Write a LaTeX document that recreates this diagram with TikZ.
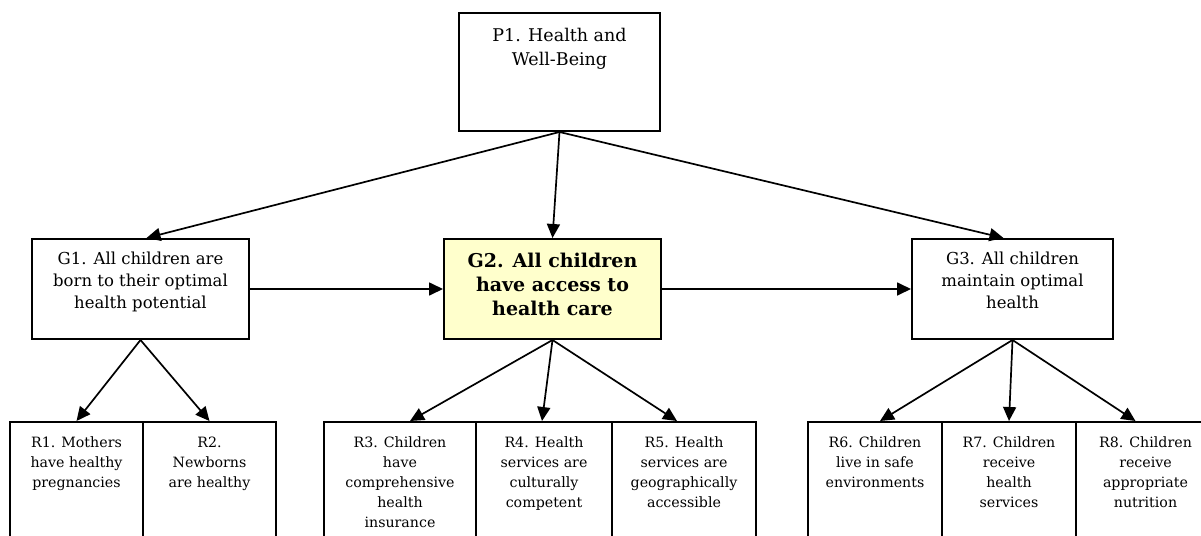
\documentclass[tikz,border=0pt]{standalone}
\usepackage{fontspec}
\setmainfont{DejaVu Serif}
\usetikzlibrary{arrows.meta}
\definecolor{goalfill}{HTML}{FFFFCC}
\tikzset{
  box/.style={draw=black, line width=2pt, inner sep=0pt, fill=white},
  txt/.style={anchor=north, align=center, inner sep=0pt},
  ptxt/.style={txt, font=\fontsize{17.5}{24}\selectfont, yshift=-16pt},
  gtxt/.style={txt, font=\fontsize{16.5}{22}\selectfont, yshift=-14pt},
  btxt/.style={txt, font=\bfseries\fontsize{19}{24}\selectfont, yshift=-15pt},
  rtxt/.style={txt, font=\fontsize{14.2}{20}\selectfont, yshift=-16pt},
  link/.style={line width=1.7pt, -{Triangle[length=14pt,width=13pt]}}
}
\begin{document}
\begin{tikzpicture}[x=1pt,y=-1pt]
\path[use as bounding box, clip] (0,0) rectangle (1201,535);

% top level
\node[box, minimum width=201pt, minimum height=118pt,
      label={[ptxt]north:{P1. Health and\\Well-Being}}] (P1) at (559.5,72) {};

% goals
\node[box, minimum width=217pt, minimum height=100pt,
      label={[gtxt]north:{G1. All children are\\born to their optimal\\health potential}}] (G1) at (140.5,289) {};
\node[box, fill=goalfill, minimum width=217pt, minimum height=100pt,
      label={[btxt]north:{G2. All children\\have access to\\health care}}] (G2) at (552.5,289) {};
\node[box, minimum width=201pt, minimum height=100pt,
      label={[gtxt]north:{G3. All children\\maintain optimal\\health}}] (G3) at (1012.5,289) {};

% results
\node[box, minimum width=133pt, minimum height=140pt,
      label={[rtxt]north:{R1. Mothers\\have healthy\\pregnancies}}] (R1) at (76.5,492) {};
\node[box, minimum width=133pt, minimum height=140pt,
      label={[rtxt]north:{R2.\\Newborns\\are healthy}}] (R2) at (209.5,492) {};
\node[box, minimum width=152pt, minimum height=140pt,
      label={[rtxt]north:{R3. Children\\have\\comprehensive\\health\\insurance}}] (R3) at (400,492) {};
\node[box, minimum width=136pt, minimum height=140pt,
      label={[rtxt]north:{R4. Health\\services are\\culturally\\competent}}] (R4) at (544,492) {};
\node[box, minimum width=144pt, minimum height=140pt,
      label={[rtxt]north:{R5. Health\\services are\\geographically\\accessible}}] (R5) at (684,492) {};
\node[box, minimum width=134pt, minimum height=140pt,
      label={[rtxt]north:{R6. Children\\live in safe\\environments}}] (R6) at (875,492) {};
\node[box, minimum width=134pt, minimum height=140pt,
      label={[rtxt]north:{R7. Children\\receive\\health\\services}}] (R7) at (1009,492) {};
\node[box, minimum width=139pt, minimum height=140pt,
      label={[rtxt]north:{R8. Children\\receive\\appropriate\\nutrition}}] (R8) at (1145.5,492) {};

% connectors
\draw[link] (P1.south) -- ([xshift=6pt]G1.north);
\draw[link] (P1.south) -- (G2.north);
\draw[link] (P1.south) -- ([xshift=-9pt]G3.north);

\draw[link] (G1.east) -- (G2.west);
\draw[link] (G2.east) -- (G3.west);

\draw[link] (G1.south) -- (R1.north);
\draw[link] (G1.south) -- (R2.north);

\draw[link] (G2.south) -- ([xshift=10pt]R3.north);
\draw[link] (G2.south) -- ([xshift=-2pt]R4.north);
\draw[link] (G2.south) -- ([xshift=-7pt]R5.north);

\draw[link] (G3.south) -- ([xshift=5pt]R6.north);
\draw[link] (G3.south) -- (R7.north);
\draw[link] (G3.south) -- ([xshift=-10pt]R8.north);
\end{tikzpicture}
\end{document}
